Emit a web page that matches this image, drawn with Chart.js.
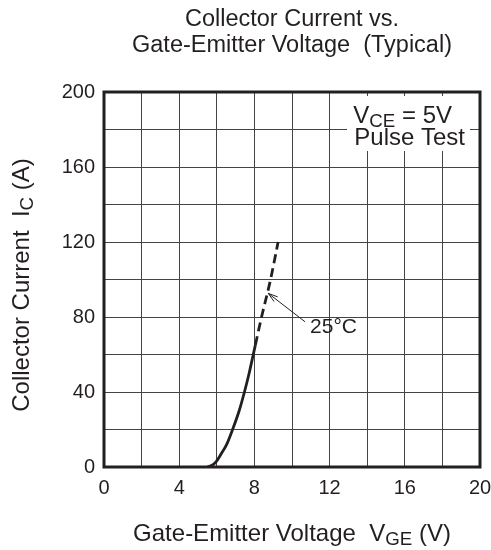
<!DOCTYPE html>
<html>
<head>
<meta charset="utf-8">
<script src="https://cdn.jsdelivr.net/npm/chart.js@4"></script>
<style>
  body { margin: 0; background: #fff; }
  canvas { display: block; }
</style>
</head>
<body>
<canvas id="grafico" width="491" height="550"></canvas>
<script>
// Dados (Ic x Vge, 25 graus)
const vgeSolido = [5.5, 5.8, 6.0, 6.26, 6.5, 6.84, 7.19, 7.47, 7.72, 7.94, 8.05];
const icSolido = [0, 1.3, 3.3, 7.5, 11.5, 20, 30, 40, 50, 60, 65];
const vgeTracejado = [8.05, 8.38, 8.86, 9.26];
const icTracejado = [65, 80, 100, 120];
const xTicks = [0, 4, 8, 12, 16, 20];
const yTicks = [0, 40, 80, 120, 160, 200];
const seta = { ponta: [8.74, 92.6], base: [10.69, 77.5], texto: [10.96, 74.8], label: '25°C' };

const cor = '#231f20';
const fonte = 'Liberation Sans, Arial, sans-serif';

const pontos = (xs, ys) => xs.map((x, i) => ({ x: x, y: ys[i] }));

// desenha texto com subscrito
function textoSub(ctx, partes, x, y, tam, align) {
  let total = 0;
  partes.forEach(p => {
    ctx.font = (p.sub ? tam * 0.78 : tam) + 'px ' + fonte;
    p.w = ctx.measureText(p.t).width;
    total += p.w;
  });
  let cx = align === 'right' ? x - total : (align === 'left' ? x : x - total / 2);
  ctx.textAlign = 'left';
  ctx.textBaseline = 'alphabetic';
  partes.forEach(p => {
    ctx.font = (p.sub ? tam * 0.78 : tam) + 'px ' + fonte;
    ctx.fillText(p.t, cx, y + (p.sub ? tam * 0.15 : 0));
    cx += p.w;
  });
}

const extras = {
  id: 'extras',
  afterDraw(chart) {
    const ctx = chart.ctx;
    const a = chart.chartArea;
    const sx = chart.scales.x, sy = chart.scales.y;
    ctx.save();
    // moldura
    ctx.strokeStyle = cor;
    ctx.lineWidth = 3;
    ctx.strokeRect(a.left, a.top, a.right - a.left, a.bottom - a.top);

    ctx.fillStyle = cor;
    // titulo
    ctx.font = '23.5px ' + fonte;
    ctx.textAlign = 'center';
    ctx.textBaseline = 'alphabetic';
    const cxm = (a.left + a.right) / 2;
    ctx.fillText('Collector Current vs.', cxm, 26);
    ctx.fillText('Gate-Emitter Voltage  (Typical)', cxm, 52);

    // legenda condicoes
    ctx.fillStyle = '#fff';
    ctx.fillRect(a.right - 133, a.top + 4, 123, 55);
    ctx.fillStyle = cor;
    textoSub(ctx, [{ t: 'V' }, { t: 'CE', sub: true }, { t: ' = 5V' }], a.right - 28, a.top + 31, 24, 'right');
    textoSub(ctx, [{ t: 'Pulse Test' }], a.right - 15, a.top + 53, 24, 'right');

    // titulo eixo x
    textoSub(ctx, [{ t: 'Gate-Emitter Voltage  V' }, { t: 'GE', sub: true }, { t: ' (V)' }], cxm, 541, 24, 'center');

    // titulo eixo y
    ctx.save();
    ctx.translate(29, 285);
    ctx.rotate(-Math.PI / 2);
    textoSub(ctx, [{ t: 'Collector Current  I' }, { t: 'C', sub: true }, { t: ' (A)' }], 0, 0, 24, 'center');
    ctx.restore();

    // seta 25C
    const px = sx.getPixelForValue(seta.ponta[0]), py = sy.getPixelForValue(seta.ponta[1]);
    const bx = sx.getPixelForValue(seta.base[0]), by = sy.getPixelForValue(seta.base[1]);
    ctx.strokeStyle = cor;
    ctx.lineWidth = 1;
    ctx.beginPath();
    ctx.moveTo(bx, by);
    ctx.lineTo(px, py);
    ctx.stroke();
    const ang = Math.atan2(py - by, px - bx);
    ctx.beginPath();
    ctx.moveTo(px, py);
    ctx.lineTo(px - 10 * Math.cos(ang - 0.3), py - 10 * Math.sin(ang - 0.3));
    ctx.moveTo(px, py);
    ctx.lineTo(px - 10 * Math.cos(ang + 0.3), py - 10 * Math.sin(ang + 0.3));
    ctx.stroke();
    ctx.font = '21px ' + fonte;
    ctx.textAlign = 'left';
    ctx.textBaseline = 'middle';
    ctx.fillText(seta.label, sx.getPixelForValue(seta.texto[0]), sy.getPixelForValue(seta.texto[1]));
    ctx.restore();
  }
};

const ctxGrafico = document.getElementById('grafico').getContext('2d');
const grafico = new Chart(ctxGrafico, {
  type: 'scatter',
  data: {
    datasets: [{
      label: '25°C',
      data: pontos(vgeSolido, icSolido),
      showLine: true,
      borderColor: cor,
      borderWidth: 2.8,
      pointRadius: 0,
      cubicInterpolationMode: 'monotone'
    }, {
      label: '25°C tracejado',
      data: pontos(vgeTracejado, icTracejado),
      showLine: true,
      borderColor: cor,
      borderWidth: 2.8,
      borderDash: [9, 5],
      pointRadius: 0,
      cubicInterpolationMode: 'monotone'
    }]
  },
  options: {
    responsive: false,
    animation: false,
    layout: { padding: { top: 92, right: 11, left: 0, bottom: 0 } },
    plugins: {
      legend: { display: false },
      tooltip: { enabled: false }
    },
    scales: {
      x: {
        type: 'linear',
        min: 0,
        max: 20,
        afterFit(scale) {
          scale.height = 83;
          scale.paddingLeft = 0;
          scale.paddingRight = 0;
        },
        grid: { color: '#444', lineWidth: 1, drawTicks: false },
        border: { display: false },
        ticks: {
          stepSize: 2,
          padding: 9,
          color: cor,
          font: { family: fonte, size: 20 },
          maxRotation: 0,
          autoSkip: false,
          callback: v => xTicks.includes(v) ? v : ''
        }
      },
      y: {
        type: 'linear',
        min: 0,
        max: 200,
        afterFit(scale) {
          scale.width = 104;
          scale.paddingTop = 0;
          scale.paddingBottom = 0;
        },
        grid: { color: '#444', lineWidth: 1, drawTicks: false },
        border: { display: false },
        ticks: {
          stepSize: 20,
          padding: 9,
          color: cor,
          font: { family: fonte, size: 20 },
          autoSkip: false,
          callback: v => yTicks.includes(v) ? v : ''
        }
      }
    }
  },
  plugins: [extras]
});
</script>
</body>
</html>
